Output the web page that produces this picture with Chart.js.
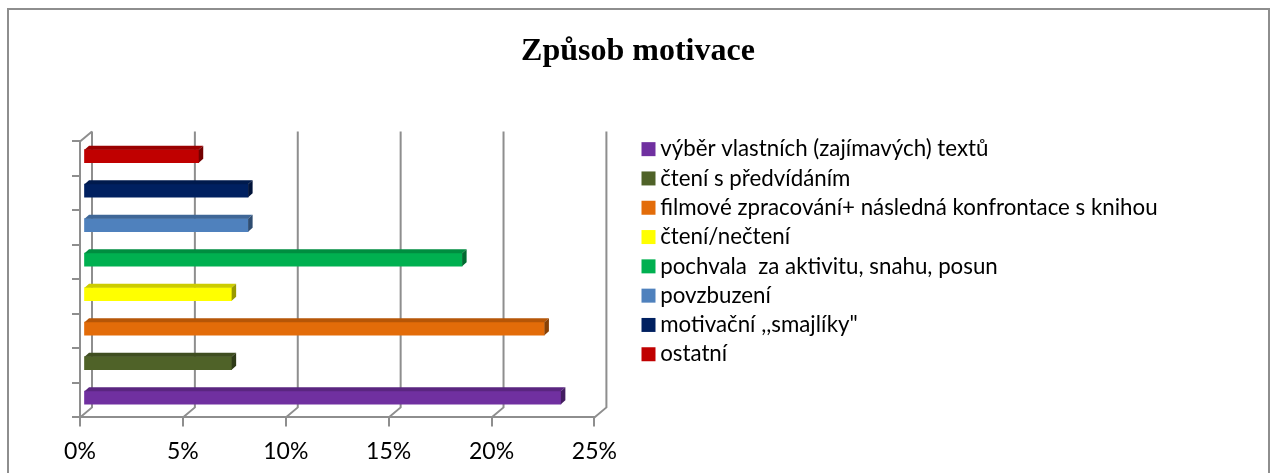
<!DOCTYPE html>
<html>
<head>
<meta charset="utf-8">
<title>Způsob motivace</title>
<script src="https://cdn.jsdelivr.net/npm/chart.js@4"></script>
<style>
  html, body { margin: 0; padding: 0; background: #fff; overflow: hidden; }
  #wrap { position: relative; width: 1276px; height: 473px; }
  #frame { position: absolute; left: 7px; top: 8px; width: 1259px; height: 480px; border: 2px solid #8e8e8e; }
  canvas { position: absolute; left: 0; top: 0; }
</style>
</head>
<body>
<div id="wrap">
  <div id="frame"></div>
  <canvas id="motivation-chart" width="1276" height="473"></canvas>
</div>
<script>
// Chart data
const categories = [
  'výběr vlastních (zajímavých) textů',
  'čtení s předvídáním',
  'filmové zpracování+ následná konfrontace s knihou',
  'čtení/nečtení',
  'pochvala  za aktivitu, snahu, posun',
  'povzbuzení',
  'motivační ,,smajlíky"',
  'ostatní'
];
const shares = [23.2, 7.2, 22.4, 7.2, 18.4, 8.0, 8.0, 5.6];
const barColors = ['#7030A0', '#4F6228', '#E36C09', '#FFFF00', '#00B050', '#4F81BD', '#002060', '#C00000'];
const titleText = 'Způsob motivace';

const axisColor = '#8e8e8e';
const wallDx = 12;
const wallDy = -10;
const barDx = 3.5;
const barDy = -2.5;
const barDepth = 4.5;

function shade(hex, factor) {
  const n = parseInt(hex.slice(1), 16);
  const r = Math.round((n >> 16 & 255) * factor);
  const g = Math.round((n >> 8 & 255) * factor);
  const b = Math.round((n & 255) * factor);
  return `rgb(${r},${g},${b})`;
}

function polygon(ctx, points, fill) {
  ctx.beginPath();
  points.forEach((p, i) => i ? ctx.lineTo(p[0], p[1]) : ctx.moveTo(p[0], p[1]));
  ctx.closePath();
  ctx.fillStyle = fill;
  ctx.fill();
}

// Title stays centred on the page, legend sits where the reference has it
const placeBlocks = {
  id: 'placeBlocks',
  afterLayout(chart) {
    chart.titleBlock.left = 0;
    chart.titleBlock.right = chart.width;
    chart.legend.left = 641;
    chart.legend.right = chart.width;
    chart.legend.top = 131;
    chart.legend.bottom = chart.height;
  }
};

// Fake Excel 3D look: back wall grid plus top and side faces on the bars
const threeD = {
  id: 'threeD',
  beforeDatasetsDraw(chart) {
    const { ctx, chartArea, scales } = chart;
    ctx.save();
    ctx.strokeStyle = axisColor;
    ctx.lineWidth = 2;
    scales.x.ticks.forEach(tick => {
      const x = scales.x.getPixelForValue(tick.value);
      ctx.beginPath();
      ctx.moveTo(x, chartArea.bottom);
      ctx.lineTo(x + wallDx, chartArea.bottom + wallDy);
      ctx.lineTo(x + wallDx, chartArea.top + wallDy);
      ctx.stroke();
    });
    ctx.beginPath();
    ctx.moveTo(chartArea.left, chartArea.top);
    ctx.lineTo(chartArea.left + wallDx, chartArea.top + wallDy);
    ctx.stroke();
    ctx.restore();
  },
  beforeDatasetDraw(chart) {
    chart.ctx.save();
    chart.ctx.translate(barDx, barDy);
  },
  afterDatasetDraw(chart) {
    const { ctx } = chart;
    chart.getDatasetMeta(0).data.forEach((bar, i) => {
      const top = bar.y - bar.height / 2;
      const bottom = bar.y + bar.height / 2;
      const left = bar.base;
      const right = bar.x;
      polygon(ctx, [[left, top], [left + barDepth, top - barDepth + 0.5], [right + barDepth, top - barDepth + 0.5], [right, top]], shade(barColors[i], 0.8));
      polygon(ctx, [[right, top], [right + barDepth, top - barDepth + 0.5], [right + barDepth, bottom - barDepth + 0.5], [right, bottom]], shade(barColors[i], 0.6));
    });
    ctx.restore();
  }
};

new Chart(document.getElementById('motivation-chart'), {
  type: 'bar',
  data: {
    labels: categories,
    datasets: [{ data: shares, backgroundColor: barColors, barThickness: 13 }]
  },
  plugins: [threeD, placeBlocks],
  options: {
    indexAxis: 'y',
    responsive: false,
    animation: false,
    layout: { padding: { left: 72, right: 155, top: 0, bottom: -3 } },
    plugins: {
      tooltip: { enabled: false },
      title: {
        display: true,
        text: titleText,
        color: '#000',
        font: { family: '"Liberation Serif"', size: 32, weight: 'bold' },
        padding: { top: 33, bottom: 70 }
      },
      legend: {
        position: 'right',
        align: 'start',
        maxWidth: 640,
        labels: {
          color: '#000',
          font: { family: 'Lato', size: 22.3 },
          usePointStyle: true,
          boxWidth: 1,
          boxHeight: 14,
          padding: 7,
          generateLabels: () => categories.map((text, i) => ({
            text,
            fillStyle: barColors[i],
            strokeStyle: barColors[i],
            lineWidth: 0,
            pointStyle: 'rect',
            index: i
          }))
        }
      }
    },
    scales: {
      x: {
        min: 0,
        max: 25,
        ticks: {
          stepSize: 5,
          padding: 11,
          color: '#000',
          font: { family: 'Lato', size: 23 },
          maxRotation: 0,
          callback: v => v + '%'
        },
        border: { color: axisColor, width: 2 },
        grid: { drawOnChartArea: false, color: axisColor, lineWidth: 2, tickLength: 9 }
      },
      y: {
        reverse: true,
        ticks: { display: false },
        border: { color: axisColor, width: 2 },
        grid: { drawOnChartArea: false, offset: true, color: axisColor, lineWidth: 2, tickLength: 8 }
      }
    }
  }
});
</script>
</body>
</html>
